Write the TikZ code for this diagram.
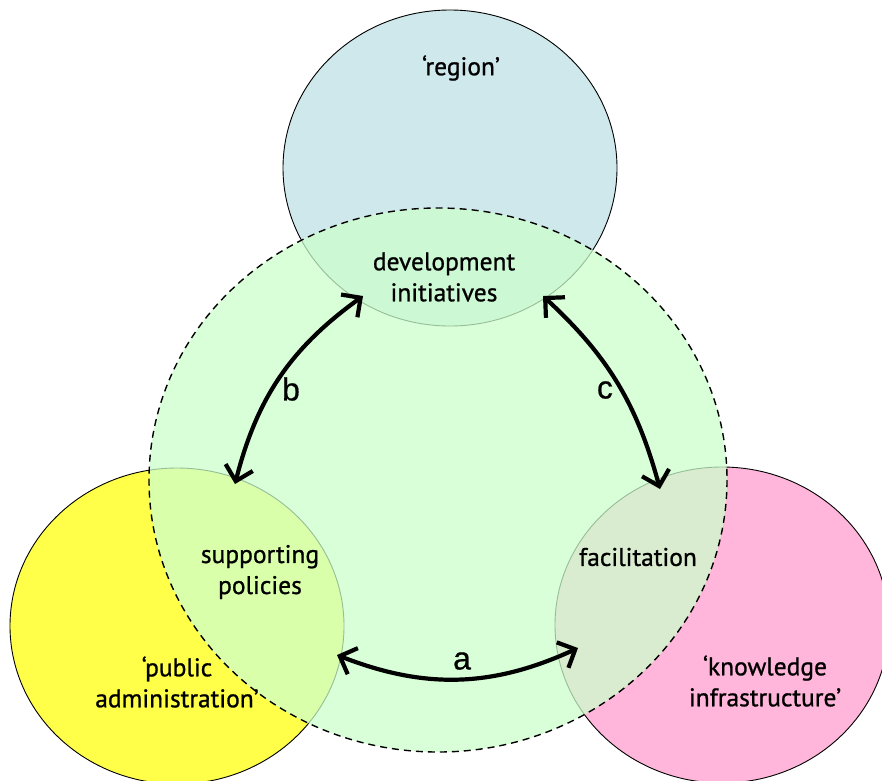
\documentclass[tikz,border=0pt]{standalone}
\usepackage{fontspec}
\setmainfont{PT Sans}
\newfontfamily\labelfont{PT Sans}[FakeBold=0.9]
\newfontfamily\letterfont{Liberation Sans}[FakeBold=0.6]
\usetikzlibrary{arrows.meta}
\definecolor{regionblue}{HTML}{CFE8EC}
\definecolor{adminyellow}{HTML}{FFFF4A}
\definecolor{knowpink}{HTML}{FFB6DA}
\definecolor{devgreen}{HTML}{CCFFCC}
\tikzset{
  outer/.style={draw=black, line width=0.9pt},
  label/.style={align=center, font=\labelfont\fontsize{25.5}{31}\selectfont, inner sep=0pt},
  letter/.style={font=\letterfont\fontsize{32}{33}\selectfont, inner sep=0pt},
  link/.style={line width=4.2pt, {Straight Barb[length=14pt,width=28pt]}-{Straight Barb[length=14pt,width=28pt]}}
}
\begin{document}
\begin{tikzpicture}[x=1pt,y=-1pt]
\useasboundingbox (0,0) rectangle (882,780);
\fill[white] (0,0) rectangle (882,780);
\begin{scope}
\clip (0,0) rectangle (882,780);
% small circles
\fill[regionblue] (450,168) ellipse [x radius=167, y radius=158];
\fill[adminyellow] (177,626) ellipse [x radius=167, y radius=158];
\fill[knowpink] (722,625) ellipse [x radius=167, y radius=158];
\draw[outer] (450,168) ellipse [x radius=167, y radius=158];
\draw[outer] (177,626) ellipse [x radius=167, y radius=158];
\draw[outer] (722,625) ellipse [x radius=167, y radius=158];
% big dashed circle
\fill[devgreen, fill opacity=0.74] (438,480) ellipse [x radius=289, y radius=272];
\draw[line width=1.4pt, dash pattern=on 7pt off 5pt] (438,480) ellipse [x radius=289, y radius=272];
\end{scope}
% labels
\node[label] (region) at (461,68) {‘region’};
\node[label] (dev) at (444,277) {development\\initiatives};
\node[label] (supp) at (260,572) {supporting\\policies};
\node[label] (fac) at (638,557) {facilitation};
\node[label] (pub) at (177,682) {‘public\\administration’};
\node[label] (know) at (765,681) {‘knowledge\\infrastructure’};
% connector ends
\coordinate (b1) at (363,296);
\coordinate (b2) at (235,484);
\coordinate (c1) at (543,296);
\coordinate (c2) at (660,489);
\coordinate (a1) at (337,655);
\coordinate (a2) at (578,648);
\draw[link] (b1) to[bend right=20] (b2);
\draw[link] (c1) to[bend left=16] (c2);
\draw[link] (a1) to[bend right=23] (a2);
\node[letter] (lb) at (291,389) {b};
\node[letter] (lc) at (605,390) {c};
\node[letter] (la) at (462,661) {a};
\end{tikzpicture}
\end{document}
